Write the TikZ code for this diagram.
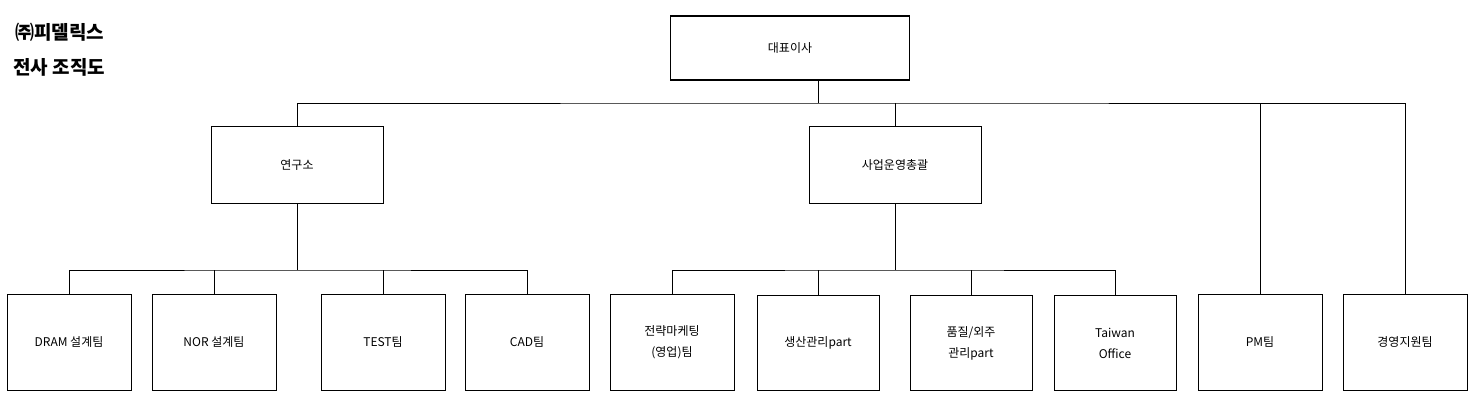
\documentclass[tikz,border=0pt]{standalone}
\usepackage{fontspec}
\setmainfont{Noto Sans CJK KR}
\usetikzlibrary{positioning}
\tikzset{
  basic/.style  = {rectangle, align=center, font=\fontsize{12}{21}\selectfont, inner sep=0pt},
  inner line/.style = {append after command={
      [draw, line width=0.9pt] ([shift={(2.5pt,2.5pt)}]\tikzlastnode.south west)
      rectangle ([shift={(-2.5pt,-2.5pt)}]\tikzlastnode.north east)}},
  ceo/.style    = {basic, draw, line width=1.6pt, minimum width=239pt, minimum height=64pt},
  dept/.style   = {basic, draw, line width=0.5pt, inner line, minimum width=172pt, minimum height=77pt},
  team/.style   = {basic, draw, line width=0.5pt, inner line, minimum width=124pt, minimum height=96pt},
  part/.style   = {basic, draw, line width=0.7pt, minimum width=122pt, minimum height=95pt},
  title/.style  = {font=\fontsize{19}{24}\selectfont\bfseries, anchor=west, inner sep=0pt}
}
\begin{document}
\begin{tikzpicture}[x=1pt, y=1pt, line width=0.8pt]
  \useasboundingbox (0,0) rectangle (1479,400);

% title
  \node[title] (t1) at (15,368) {㈜피델릭스};
  \node[title] (t2) at (13,333) {전사 조직도};

% top and second level
  \node[ceo] (ceo) at (790,352) {대표이사};
  \node[dept] (lab) at (297,235) {연구소};
  \node[dept] (biz) at (895,235) {사업운영총괄};

% third level
  \node[team] (dram) at (69,58) {DRAM 설계팀};
  \node[team] (nor) at (214,58) {NOR 설계팀};
  \node[team] (test) at (383,58) {TEST팀};
  \node[team] (cad) at (527,58) {CAD팀};
  \node[team] (mkt) at (672,58) {전략마케팅\\(영업)팀};
  \node[part] (prod) at (818,57) {생산관리part};
  \node[part] (qual) at (971,57) {품질/외주\\관리part};
  \node[part] (tw) at (1115,57) {Taiwan\\Office};
  \node[team] (pm) at (1260,58) {PM팀};
  \node[team] (mgmt) at (1405,58) {경영지원팀};

  \coordinate (hub) at (818,297);
  \coordinate (labhub) at (297,130);
  \coordinate (bizhub) at (895,130);

% connectors
  \draw (ceo.south -| hub) -- (hub);
  \draw (lab.north) |- (hub) -| (mgmt.north);
  \draw (biz.north) -- (biz.north |- hub);
  \draw (pm.north) -- (pm.north |- hub);

  \draw (lab.south) -- (labhub);
  \draw (dram.north) |- (labhub) -| (cad.north);
  \foreach \t in {nor,test}
    \draw (\t.north) -- (\t.north |- labhub);

  \draw (biz.south) -- (bizhub);
  \draw (mkt.north) |- (bizhub) -| (tw.north);
  \foreach \t in {prod,qual}
    \draw (\t.north) -- (\t.north |- bizhub);
\end{tikzpicture}
\end{document}
